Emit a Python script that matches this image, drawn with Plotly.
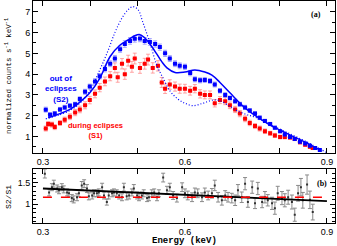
import plotly.graph_objects as go

# ---------------- data: top panel ----------------
s2_energy = [0.306, 0.315, 0.325, 0.336, 0.346, 0.357, 0.368, 0.378, 0.389, 0.399,
             0.410, 0.420, 0.431, 0.442, 0.452, 0.463, 0.473, 0.484, 0.494, 0.505,
             0.515, 0.526, 0.537, 0.547, 0.558, 0.568, 0.579, 0.589, 0.600, 0.611,
             0.621, 0.632, 0.642, 0.653, 0.663, 0.674, 0.685, 0.695, 0.706, 0.716,
             0.727, 0.737, 0.748, 0.758, 0.769, 0.780, 0.790, 0.801, 0.811, 0.822,
             0.832, 0.843, 0.854, 0.864, 0.875, 0.885]
s2_counts = [2.29, 2.05, 2.10, 2.30, 2.40, 2.48, 2.55, 2.80, 3.15, 3.40,
             3.65, 3.90, 4.25, 4.50, 4.75, 5.20, 5.45, 5.60, 5.70, 5.72,
             5.60, 5.55, 5.45, 5.30, 5.00, 4.75, 4.50, 4.40, 4.35, 4.05,
             3.75, 3.70, 3.72, 3.67, 3.50, 3.20, 3.00, 2.85, 2.70, 2.55,
             2.40, 2.25, 2.10, 1.90, 1.75, 1.60, 1.42, 1.25, 1.10, 0.98,
             0.88, 0.75, 0.66, 0.55, 0.45, 0.35]
s2_err = [0.12, 0.10, 0.10, 0.10, 0.10, 0.10, 0.10, 0.11, 0.12, 0.12,
          0.13, 0.13, 0.14, 0.14, 0.15, 0.15, 0.16, 0.16, 0.16, 0.16,
          0.16, 0.16, 0.15, 0.15, 0.15, 0.14, 0.14, 0.14, 0.13, 0.13,
          0.12, 0.12, 0.12, 0.12, 0.12, 0.11, 0.11, 0.10, 0.10, 0.10,
          0.10, 0.09, 0.09, 0.09, 0.08, 0.08, 0.08, 0.07, 0.07, 0.07,
          0.06, 0.06, 0.06, 0.05, 0.05, 0.05]

s1_energy = [0.306, 0.311, 0.319, 0.325, 0.336, 0.346, 0.357, 0.368, 0.378, 0.389,
             0.399, 0.410, 0.420, 0.431, 0.442, 0.452, 0.458, 0.467, 0.473, 0.480,
             0.488, 0.494, 0.505, 0.515, 0.522, 0.532, 0.543, 0.551, 0.558, 0.568,
             0.579, 0.589, 0.600, 0.611, 0.621, 0.632, 0.642, 0.653, 0.663, 0.674,
             0.685, 0.695, 0.706, 0.716, 0.727, 0.737, 0.748, 0.758, 0.769, 0.780,
             0.790, 0.801, 0.811, 0.822, 0.832, 0.843, 0.854, 0.864, 0.870]
s1_counts = [1.38, 1.60, 1.57, 1.45, 1.65, 1.80, 1.95, 2.15, 2.30, 2.50,
             2.75, 3.05, 3.35, 3.65, 3.90, 4.30, 3.85, 4.50, 4.00, 4.65,
             4.35, 4.75, 4.30, 4.50, 4.70, 4.30, 4.40, 3.60, 3.30, 3.50,
             3.40, 3.30, 3.30, 3.20, 3.30, 3.05, 3.00, 3.00, 2.60, 2.75,
             2.70, 2.50, 2.30, 2.10, 1.85, 1.65, 1.50, 1.38, 1.25, 1.15,
             1.05, 0.97, 0.97, 0.95, 0.88, 0.72, 0.60, 0.50, 0.45]
s1_err = [0.12, 0.12, 0.12, 0.12, 0.12, 0.13, 0.14, 0.15, 0.16, 0.17,
          0.18, 0.19, 0.20, 0.21, 0.22, 0.24, 0.24, 0.25, 0.25, 0.26,
          0.26, 0.26, 0.26, 0.26, 0.26, 0.25, 0.25, 0.24, 0.23, 0.23,
          0.22, 0.22, 0.21, 0.21, 0.20, 0.20, 0.19, 0.19, 0.18, 0.17,
          0.17, 0.16, 0.15, 0.15, 0.14, 0.13, 0.12, 0.12, 0.11, 0.10,
          0.10, 0.09, 0.09, 0.09, 0.08, 0.08, 0.07, 0.07, 0.07]

model_energy = [0.311, 0.336, 0.357, 0.378, 0.399, 0.420, 0.442, 0.463, 0.480, 0.494,
                0.505, 0.515, 0.526, 0.541, 0.551, 0.562, 0.579, 0.600, 0.621, 0.642,
                0.657, 0.674, 0.695, 0.723, 0.752, 0.780, 0.815, 0.858, 0.885]
model_s2 = [1.90, 2.10, 2.30, 2.65, 3.10, 3.80, 4.85, 5.40, 5.65, 5.85,
            5.90, 5.75, 5.45, 4.95, 4.60, 4.30, 4.08, 4.10, 4.20, 4.10,
            3.95, 3.60, 3.10, 2.45, 1.95, 1.55, 1.15, 0.68, 0.35]

alt_energy = [0.306, 0.336, 0.357, 0.378, 0.399, 0.420, 0.437, 0.452, 0.467, 0.480,
              0.490, 0.501, 0.511, 0.526, 0.541, 0.554, 0.568, 0.585, 0.600, 0.617,
              0.638, 0.659, 0.674, 0.695, 0.710, 0.731, 0.752, 0.780, 0.815, 0.858,
              0.885, 0.900]
alt_model = [1.85, 2.05, 2.25, 2.60, 3.20, 4.20, 5.10, 6.00, 6.70, 7.10,
             7.25, 7.10, 6.50, 5.50, 4.40, 3.80, 3.20, 2.80, 2.60, 2.48,
             2.60, 2.75, 2.72, 2.45, 2.24, 2.05, 1.90, 1.57, 1.20, 0.73,
             0.40, 0.22]

# ---------------- data: bottom panel (ratio) ----------------
ratio_energy = [0.304, 0.313, 0.319, 0.323, 0.330, 0.334, 0.340, 0.344, 0.351, 0.355,
                0.361, 0.365, 0.372, 0.376, 0.382, 0.387, 0.393, 0.397, 0.404, 0.408,
                0.414, 0.418, 0.425, 0.429, 0.435, 0.439, 0.446, 0.450, 0.456, 0.461,
                0.467, 0.471, 0.477, 0.482, 0.488, 0.492, 0.499, 0.503, 0.509, 0.513,
                0.520, 0.524, 0.530, 0.535, 0.541, 0.545, 0.554, 0.562, 0.568, 0.575,
                0.583, 0.594, 0.600, 0.606, 0.615, 0.621, 0.627, 0.636, 0.642, 0.649,
                0.657, 0.663, 0.670, 0.678, 0.685, 0.691, 0.699, 0.706, 0.712, 0.720,
                0.727, 0.733, 0.742, 0.748, 0.754, 0.763, 0.769, 0.775, 0.784, 0.790,
                0.796, 0.805, 0.811, 0.818, 0.826, 0.832, 0.839, 0.845, 0.849, 0.858,
                0.864, 0.870]
ratio = [1.70, 1.27, 1.39, 1.47, 1.36, 1.32, 1.39, 1.34, 1.27, 1.25,
         1.14, 1.11, 1.16, 1.25, 1.43, 1.47, 1.36, 1.18, 1.20, 1.25,
         1.25, 1.27, 1.39, 1.20, 1.05, 1.20, 1.25, 1.27, 1.25, 1.20,
         1.16, 1.39, 1.18, 1.20, 1.27, 1.36, 1.20, 1.16, 1.20, 1.25,
         1.14, 1.16, 1.25, 1.27, 1.16, 1.25, 1.61, 1.32, 1.39, 1.20,
         1.14, 1.39, 1.25, 1.20, 1.16, 1.27, 1.25, 1.16, 1.27, 1.20,
         1.25, 1.43, 1.16, 1.09, 1.20, 1.16, 1.14, 1.09, 1.32, 1.16,
         1.47, 1.05, 1.39, 1.02, 1.36, 1.05, 1.16, 1.09, 1.02, 0.91,
         1.25, 1.14, 1.09, 1.16, 1.05, 0.76, 1.25, 1.39, 1.09, 1.45,
         1.10, 0.82]
ratio_err = [0.10, 0.08, 0.08, 0.08, 0.08, 0.08, 0.08, 0.08, 0.08, 0.08,
             0.08, 0.08, 0.08, 0.08, 0.09, 0.09, 0.09, 0.08, 0.08, 0.08,
             0.08, 0.08, 0.09, 0.08, 0.07, 0.08, 0.08, 0.08, 0.08, 0.08,
             0.08, 0.09, 0.08, 0.08, 0.08, 0.09, 0.08, 0.08, 0.08, 0.08,
             0.08, 0.08, 0.08, 0.08, 0.08, 0.08, 0.10, 0.09, 0.09, 0.09,
             0.09, 0.10, 0.10, 0.10, 0.10, 0.10, 0.10, 0.10, 0.10, 0.10,
             0.11, 0.12, 0.11, 0.11, 0.11, 0.11, 0.11, 0.12, 0.13, 0.12,
             0.14, 0.12, 0.14, 0.12, 0.14, 0.13, 0.13, 0.13, 0.14, 0.14,
             0.16, 0.15, 0.15, 0.16, 0.16, 0.15, 0.18, 0.20, 0.18, 0.22,
             0.20, 0.18]

fit_energy = [0.30, 0.90]
fit_ratio = [1.36, 1.07]
const_ratio = [1.16, 1.16]

x_ticks = [0.3, 0.4, 0.5, 0.6, 0.7, 0.8, 0.9]
x_ticktext = ["0.3", "", "", "0.6", "", "", "0.9"]

BLUE = "#0000ff"
RED = "#ff0000"

fig = go.Figure()

# top panel
fig.add_trace(go.Scatter(
    x=s1_energy, y=s1_counts, mode="markers",
    marker=dict(symbol="square", size=4, color=RED),
    error_y=dict(type="data", array=s1_err, color="rgba(255,110,110,0.6)", thickness=1, width=2),
    error_x=dict(type="constant", value=0.005, color="rgba(255,110,110,0.6)", thickness=1, width=0),
    xaxis="x", yaxis="y", showlegend=False))
fig.add_trace(go.Scatter(
    x=s2_energy, y=s2_counts, mode="markers",
    marker=dict(symbol="square", size=4, color=BLUE),
    error_y=dict(type="data", array=s2_err, color="rgba(110,110,255,0.6)", thickness=1, width=2),
    error_x=dict(type="constant", value=0.005, color="rgba(110,110,255,0.6)", thickness=1, width=0),
    xaxis="x", yaxis="y", showlegend=False))
fig.add_trace(go.Scatter(
    x=model_energy, y=model_s2, mode="lines", line=dict(color=BLUE, width=1.5, shape="spline"),
    xaxis="x", yaxis="y", showlegend=False))
fig.add_trace(go.Scatter(
    x=alt_energy, y=alt_model, mode="lines",
    line=dict(color=BLUE, width=1.2, dash="1px,2px", shape="spline"),
    xaxis="x", yaxis="y", showlegend=False))

# bottom panel
fig.add_trace(go.Scatter(
    x=ratio_energy, y=ratio, mode="markers",
    marker=dict(symbol="square", size=2, color="#333333"),
    error_y=dict(type="data", array=ratio_err, color="#8a8a8a", thickness=1, width=2),
    xaxis="x2", yaxis="y2", showlegend=False))
fig.add_trace(go.Scatter(
    x=fit_energy, y=fit_ratio, mode="lines", line=dict(color="black", width=1.8),
    xaxis="x2", yaxis="y2", showlegend=False))
fig.add_trace(go.Scatter(
    x=fit_energy, y=const_ratio, mode="lines", line=dict(color=RED, width=1.5, dash="dash"),
    xaxis="x2", yaxis="y2", showlegend=False))

axis_common = dict(showline=True, linecolor="black", linewidth=1, mirror="ticks",
                   ticks="inside", tickcolor="black", showgrid=False, zeroline=False,
                   automargin=False,
                   tickfont=dict(family="Liberation Sans", size=9, color="black"))

MONO = "Liberation Mono"

fig.update_layout(
    width=337, height=246,
    margin=dict(l=33, r=2, t=1, b=23),
    paper_bgcolor="white", plot_bgcolor="white",
    xaxis=dict(domain=[0, 1], anchor="y", range=[0.279, 0.917],
               tickvals=x_ticks, ticktext=x_ticktext, ticklen=5, **axis_common),
    yaxis=dict(domain=[0.314, 1], anchor="x", range=[0.19, 7.52],
               tickvals=[1, 2, 3, 4, 5, 6, 7], ticklen=5,
               minor=dict(dtick=0.5, ticklen=3, ticks="inside", tickcolor="black"),
               **axis_common),
    xaxis2=dict(domain=[0, 1], anchor="y2", range=[0.279, 0.917],
                tickvals=x_ticks, ticktext=x_ticktext, ticklen=5, **axis_common),
    yaxis2=dict(domain=[0, 0.242], anchor="x2", range=[0.57, 1.8],
                tickvals=[1, 1.5], ticktext=["1", "1.5"], ticklen=5,
                minor=dict(dtick=0.1, ticklen=3, ticks="inside", tickcolor="black"),
                **axis_common),
    annotations=[
        dict(text="normalized counts s<sup>-1</sup> keV<sup>-1</sup>", x=8, y=76,
             showarrow=False, textangle=-90,
             font=dict(family=MONO, size=7.5, color="black")),
        dict(text="S2/S1", x=8, y=197, showarrow=False, textangle=-90,
             font=dict(family=MONO, size=8, color="black")),
        dict(text="<b>Energy (keV)</b>", x=184, y=241, showarrow=False,
             font=dict(family=MONO, size=9, color="black")),
        dict(text="<b>out of<br>eclipses<br>(S2)</b>", x=0.338, y=3.3, xref="x", yref="y",
             showarrow=False, font=dict(family="Liberation Sans", size=8, color=BLUE), align="center"),
        dict(text="<b>during eclipses<br>(S1)</b>", x=0.41, y=1.31, xref="x", yref="y",
             showarrow=False, font=dict(family="Liberation Sans", size=7.5, color=RED), align="center"),
        dict(text="<b>(a)</b>", x=0.877, y=6.86, xref="x", yref="y", showarrow=False,
             font=dict(family="Liberation Serif", size=8, color="black")),
        dict(text="<b>(b)</b>", x=0.889, y=1.48, xref="x2", yref="y2", showarrow=False,
             font=dict(family="Liberation Serif", size=8, color="black")),
    ],
)

# convert pixel-placed annotations (first three) into paper coordinates
W, H = 337, 246
L, R, T, B = 33, 2, 1, 23
pw, ph = W - L - R, H - T - B
anns = list(fig.layout.annotations)
for a in anns[:3]:
    a.xref = "paper"
    a.yref = "paper"
    a.xanchor = "center"
    a.yanchor = "middle"
    a.x = (a.x - L) / pw
    a.y = 1 - (a.y - T) / ph
fig.layout.annotations = anns

fig.write_html("out.html", config={"displayModeBar": False},
               post_script="document.body.style.margin='0';document.body.style.overflow='hidden';")
